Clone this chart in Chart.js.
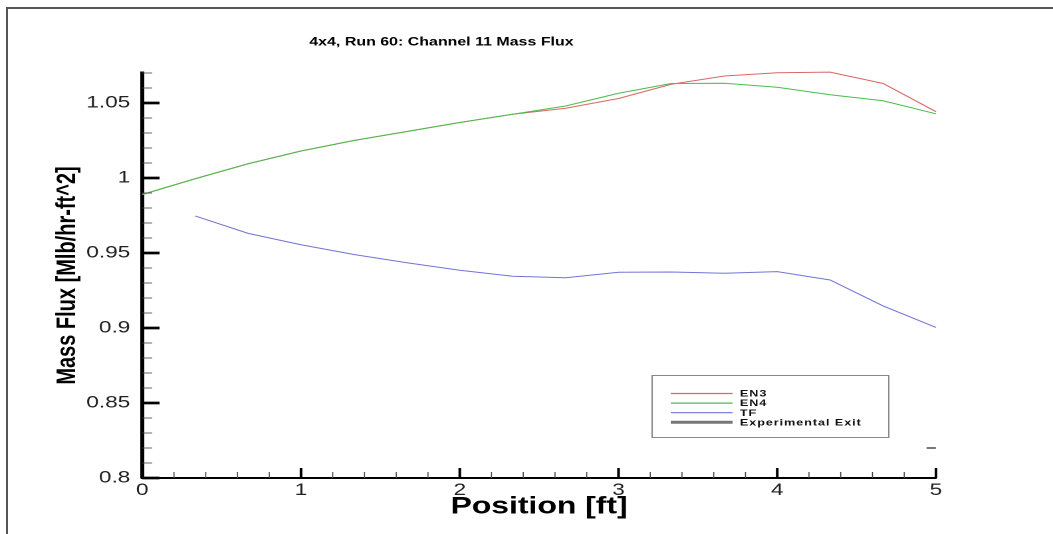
<!DOCTYPE html>
<html>
<head>
<meta charset="utf-8">
<script src="https://cdn.jsdelivr.net/npm/chart.js@4.4.1/dist/chart.umd.min.js"></script>
<style>
    html, body { margin: 0; padding: 0; background: #ffffff; }
    /* the reference is stretched sideways, so the chart is drawn narrow and scaled in x */
    #stretch { position: absolute; left: 0; top: 0; width: 792px; height: 534px; transform: scaleX(1.3295); transform-origin: 0 0; }
    #frame { position: absolute; left: 6px; top: 7px; right: 0; bottom: 0; border-top: 2px solid #555; border-left: 2px solid #555; }
</style>
</head>
<body>
<div id="frame"></div>
<div id="stretch"><canvas id="c" width="792" height="534"></canvas></div>
<script>
const FONT = "'Liberation Sans', Arial, Helvetica, sans-serif";

const positions = [0, 0.333, 0.667, 1, 1.333, 1.667, 2, 2.333, 2.667, 3, 3.333, 3.667, 4, 4.333, 4.667, 5];
const en3 = [0.989, 0.9995, 1.0095, 1.018, 1.025, 1.031, 1.037, 1.0425, 1.0465, 1.053, 1.0625, 1.068, 1.0702, 1.0706, 1.063, 1.0442];
const en4 = [0.989, 0.9995, 1.0095, 1.018, 1.025, 1.031, 1.037, 1.0425, 1.048, 1.0565, 1.063, 1.0632, 1.0605, 1.0555, 1.0515, 1.0428];
const tf = [null, 0.9747, 0.9631, 0.9555, 0.949, 0.9435, 0.9385, 0.9345, 0.9335, 0.9372, 0.9373, 0.9365, 0.9376, 0.932, 0.9147, 0.9004];
const expExitPos = [4.97];
const expExitVal = [0.82];

const xTicks = [0, 1, 2, 3, 4, 5];
const yTicks = [0.8, 0.85, 0.9, 0.95, 1, 1.05];
const xMinorStep = 0.2;
const yMinorStep = 0.01;

const colEN3 = '#d86868';
const colEN4 = '#4cbc4c';
const colTF = '#7474d4';
const colExp = '#777777';

function toPoints(xs, ys) {
    return xs.map((x, i) => ({ x, y: ys[i] })).filter((p) => p.y !== null);
}

const axisMarks = {
    id: 'axisMarks',
    afterDraw(c) {
        const { ctx, chartArea: a, scales } = c;
        const sx = scales.x;
        const sy = scales.y;
        ctx.save();
        // minor ticks
        ctx.strokeStyle = '#444';
        ctx.lineWidth = 0.8;
        for (let v = sx.min; v <= sx.max + 1e-9; v += xMinorStep) {
            const px = sx.getPixelForValue(v);
            ctx.beginPath();
            ctx.moveTo(px, a.bottom);
            ctx.lineTo(px, a.bottom - 6);
            ctx.stroke();
        }
        for (let v = sy.min; v <= sy.max + 1e-9; v += yMinorStep) {
            const py = sy.getPixelForValue(v);
            ctx.beginPath();
            ctx.moveTo(a.left, py);
            ctx.lineTo(a.left + 7.5, py);
            ctx.stroke();
        }
        // major ticks
        ctx.strokeStyle = '#000';
        ctx.lineWidth = 2;
        xTicks.forEach((v) => {
            const px = sx.getPixelForValue(v);
            ctx.beginPath();
            ctx.moveTo(px, a.bottom);
            ctx.lineTo(px, a.bottom - 10);
            ctx.stroke();
        });
        ctx.lineWidth = 2.7;
        yTicks.forEach((v) => {
            const py = sy.getPixelForValue(v);
            ctx.beginPath();
            ctx.moveTo(a.left, py);
            ctx.lineTo(a.left + 13, py);
            ctx.stroke();
        });
        ctx.restore();
    },
};

const titleText = {
    id: 'titleText',
    afterDraw(c) {
        const ctx = c.ctx;
        ctx.save();
        ctx.fillStyle = '#000';
        ctx.font = 'bold 12px ' + FONT;
        ctx.textAlign = 'center';
        ctx.textBaseline = 'middle';
        ctx.fillText('4x4, Run 60: Channel 11 Mass Flux', 332, 42);
        ctx.restore();
    },
};

const boxLegend = {
    id: 'boxLegend',
    afterDraw(c) {
        const ctx = c.ctx;
        const left = 490, top = 375, w = 178, h = 62;
        ctx.save();
        ctx.fillStyle = '#ffffff';
        ctx.fillRect(left, top, w, h);
        ctx.strokeStyle = '#888';
        ctx.lineWidth = 1;
        ctx.strokeRect(left + 0.5, top + 0.5, w, h);
        ctx.font = 'bold 9.5px ' + FONT;
        ctx.letterSpacing = '0.7px';
        ctx.textAlign = 'left';
        ctx.textBaseline = 'middle';
        c.data.datasets.forEach((ds, i) => {
            const y = top + 18.5 + i * 9.6;
            ctx.beginPath();
            ctx.strokeStyle = ds.borderColor;
            ctx.lineWidth = ds.showLine === false ? 3 : 1.2;
            ctx.moveTo(left + 14.5, y);
            ctx.lineTo(left + 61, y);
            ctx.stroke();
            ctx.fillStyle = '#111';
            ctx.fillText(ds.label, left + 66.5, y + 0.5);
        });
        ctx.restore();
    },
};

new Chart(document.getElementById('c').getContext('2d'), {
    type: 'line',
    data: {
        datasets: [
            { label: 'EN3', data: toPoints(positions, en3), borderColor: colEN3, borderWidth: 1, pointRadius: 0, tension: 0, clip: false, order: 1 },
            { label: 'EN4', data: toPoints(positions, en4), borderColor: colEN4, borderWidth: 1, pointRadius: 0, tension: 0, clip: false, order: 0 },
            { label: 'TF', data: toPoints(positions, tf), borderColor: colTF, borderWidth: 1, pointRadius: 0, tension: 0, clip: false, order: 0 },
            {
                label: 'Experimental Exit',
                data: toPoints(expExitPos, expExitVal),
                showLine: false,
                borderColor: colExp,
                backgroundColor: colExp,
                pointStyle: 'line',
                pointRadius: 3.5,
                pointBorderWidth: 2,
                order: 0,
            },
        ],
    },
    options: {
        responsive: false,
        animation: false,
        devicePixelRatio: 2,
        layout: { padding: { top: 73, right: 88, left: 0, bottom: 0 } },
        plugins: {
            legend: { display: false },
            title: { display: false },
            tooltip: { enabled: false },
        },
        scales: {
            x: {
                type: 'linear',
                min: 0,
                max: 5,
                afterBuildTicks: (s) => { s.ticks = xTicks.map((v) => ({ value: v })); },
                afterFit: (s) => { s.height = 56; },
                grid: { display: false, drawTicks: false },
                border: { display: true, color: '#000', width: 2 },
                ticks: {
                    color: '#222',
                    autoSkip: false,
                    maxRotation: 0,
                    padding: 2,
                    font: { size: 17, family: FONT },
                    callback: (v) => String(v),
                },
                title: {
                    display: true,
                    text: 'Position [ft]',
                    color: '#000',
                    font: { size: 24, weight: 'bold', family: FONT },
                    padding: { top: 0, bottom: 12.6 },
                },
            },
            y: {
                type: 'linear',
                min: 0.8,
                max: 1.07,
                afterBuildTicks: (s) => { s.ticks = yTicks.map((v) => ({ value: v })); },
                afterFit: (s) => { s.width = 107; },
                grid: { display: false, drawTicks: false },
                border: { display: true, color: '#000', width: 3 },
                ticks: {
                    color: '#222',
                    autoSkip: false,
                    padding: 9,
                    font: { size: 17, family: FONT },
                    callback: (v) => String(v),
                },
                title: {
                    display: true,
                    text: 'Mass Flux [Mlb/hr-ft^2]',
                    color: '#000',
                    font: { size: 20, weight: 'bold', family: FONT },
                    padding: { top: 38.8, bottom: 0 },
                },
            },
        },
    },
    plugins: [axisMarks, titleText, boxLegend],
});
</script>
</body>
</html>
